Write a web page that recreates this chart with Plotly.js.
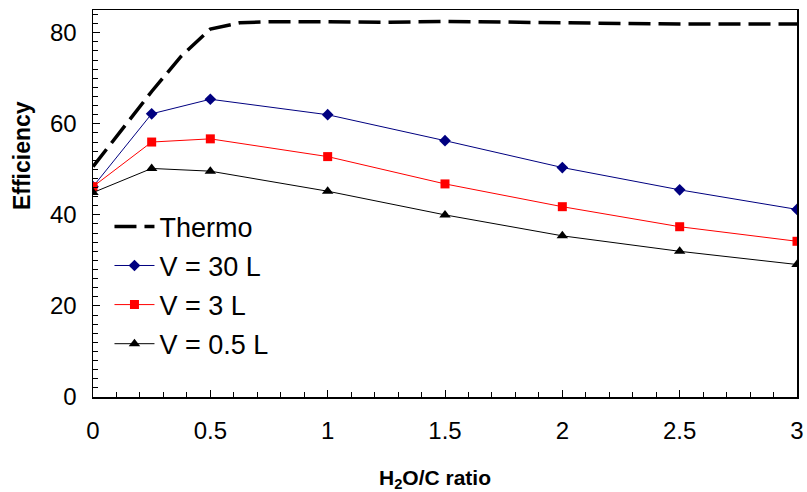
<!DOCTYPE html>
<html>
<head>
<meta charset="utf-8">
<script src="https://cdn.plot.ly/plotly-3.0.1.min.js"></script>
<style>html,body{margin:0;padding:0;background:#fff;}#chart{width:807px;height:492px;}</style>
</head>
<body>
<div id="chart"></div>
<script>
const thermoX = [0, 0.125, 0.25, 0.375, 0.5, 0.625, 0.75, 1, 1.25, 1.5, 1.75, 2, 2.5, 3];
const thermoY = [50.6, 59, 67.1, 74.8, 80.8, 82.2, 82.4, 82.4, 82.3, 82.5, 82.3, 82.2, 81.9, 81.9];
const ratioX = [0, 0.25, 0.5, 1, 1.5, 2, 2.5, 3];
const v30 = [46.2, 62.2, 65.4, 62.0, 56.3, 50.4, 45.5, 41.2];
const v3 = [46.2, 56.0, 56.7, 52.8, 46.8, 41.8, 37.4, 34.2];
const v05 = [44.9, 50.2, 49.6, 45.2, 40.0, 35.4, 32.0, 29.1];
const names = ['Thermo', 'V = 30 L', 'V = 3 L', 'V = 0.5 L'];
const xTitle = '<b>H<sub>2</sub>O/C ratio</b>';
const yTitle = '<b>Efficiency</b>';

const traces = [
  {x: thermoX, y: thermoY, name: names[0], mode: 'lines', legendgroup: 'a',
   line: {color: '#000', width: 3.5, dash: '22px,8px'}},
  {x: ratioX, y: v30, name: names[1], mode: 'lines+markers', legendgroup: 'b',
   line: {color: '#000080', width: 1}, marker: {symbol: 'diamond', size: 9, color: '#000080'}},
  {x: ratioX, y: v3, name: names[2], mode: 'lines+markers', legendgroup: 'c',
   line: {color: '#FF0000', width: 1}, marker: {symbol: 'square', size: 9, color: '#FF0000'}},
  {x: ratioX, y: v05, name: names[3], mode: 'lines+markers', legendgroup: 'd',
   line: {color: '#000', width: 1}, marker: {symbol: 'triangle-up', size: 10, color: '#000'}}
];

const font = {family: 'Liberation Sans, Arial, sans-serif', color: '#000'};
const layout = {
  width: 807, height: 492,
  margin: {l: 93, r: 10, t: 10, b: 95},
  paper_bgcolor: '#fff', plot_bgcolor: '#fff',
  font: font,
  showlegend: true,
  legend: {x: 0.0234, y: 0.503, xanchor: 'left', yanchor: 'top', bgcolor: 'rgba(0,0,0,0)',
    font: {family: font.family, size: 27, color: '#000'}, traceorder: 'grouped', tracegroupgap: 1,
    itemwidth: 40},
  xaxis: {
    range: [0, 3], dtick: 0.5, tick0: 0, ticks: 'inside', ticklen: 7, tickwidth: 1, tickcolor: '#000',
    showline: true, linecolor: '#000', linewidth: 1.5, mirror: true, showgrid: false, zeroline: false,
    tickfont: {family: font.family, size: 24, color: '#000'}, ticklabelstandoff: 12,
    minor: {dtick: 0.1, ticks: 'inside', ticklen: 5, tickcolor: '#000', showgrid: false}
  },
  yaxis: {
    range: [0, 85], dtick: 20, tick0: 0, ticks: 'inside', ticklen: 7, tickwidth: 1, tickcolor: '#000',
    showline: true, linecolor: '#000', linewidth: 1.5, mirror: true, showgrid: false, zeroline: false,
    tickfont: {family: font.family, size: 24, color: '#000'}, ticklabelstandoff: 10,
    minor: {dtick: 2, ticks: 'inside', ticklen: 5, tickcolor: '#000', showgrid: false}
  },
  annotations: [
    {text: xTitle, xref: 'paper', yref: 'paper', x: 0.486, y: -0.212, xanchor: 'center', yanchor: 'middle',
     showarrow: false, font: {family: font.family, size: 21, color: '#000'}},
    {text: yTitle, xref: 'paper', yref: 'paper', x: -0.1009, y: 0.625, xanchor: 'center', yanchor: 'middle',
     textangle: -90, showarrow: false, font: {family: font.family, size: 23, color: '#000'}}
  ]
};

Plotly.newPlot('chart', traces, layout, {displayModeBar: false, staticPlot: true});
</script>
</body>
</html>
